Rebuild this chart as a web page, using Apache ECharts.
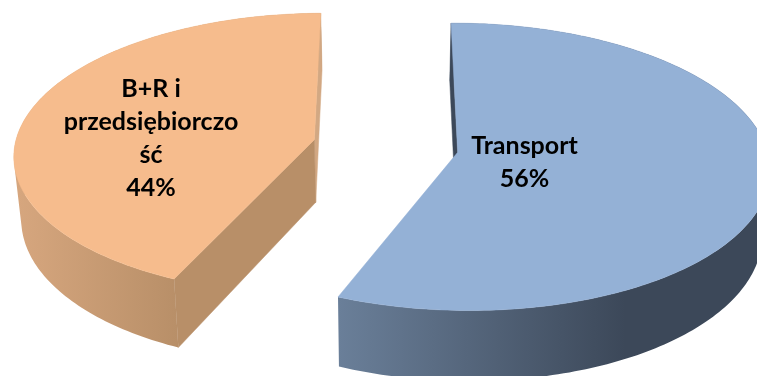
<!DOCTYPE html>
<html>
<head>
<meta charset="utf-8">
<style>html,body{margin:0;padding:0;background:#fff}#c{width:757px;height:376px}</style>
<script src="https://cdn.jsdelivr.net/npm/echarts@6/dist/echarts.min.js"></script>
</head>
<body>
<div id="c"></div>
<script>
// data
const categories = ['Transport', 'B+R i\nprzedsiębiorczo\nść'];
const values = [56, 44];

// view of the tilted pie (plane to screen)
const VIEW = {cx: 385.5, cy: 146, rx: 304, ry: 140.6, k: 0.0998, yaw: 0.01, depth: 63, floorScale: 0.98, explode: 0.24, startDeg: 0};
const LOOK = [
  {top: '#94B1D6', radial: '#3C4859', warpDeg: 1.5, wallFrom: [338, '#6A7F99'], wallTo: [625, '#3C4859'], labelAt: [524.5, 162]},
  {top: '#F6BC8D', radial: '#B88F68', backRadial: '#D2A883', warpDeg: 6, wallFrom: [18, '#D6A67E'], wallTo: [178, '#B88F68'], labelAt: [151, 138]}
];
const total = values.reduce((a, b) => a + b, 0);
const rad = d => d * Math.PI / 180;

function project(X, Y, floor) {
  const w = 1 - VIEW.k * Y - VIEW.yaw * X;
  const s = floor ? VIEW.floorScale : 1;
  return [
    VIEW.cx + s * VIEW.rx * X / w,
    VIEW.cy + VIEW.ry * Y / w + (floor ? VIEW.depth / w : 0)
  ];
}

function area(q) {
  let s = 0;
  q.forEach((p, n) => { const r = q[(n + 1) % q.length]; s += p[0] * r[1] - r[0] * p[1]; });
  return s;
}

// one closed outline that walks every rim quad with the same winding, so the wall fills with no seams
function wallOutline(t, f) {
  const out = [];
  for (let n = 0; n + 1 < t.length; n++) {
    const q = [t[n], t[n + 1], f[n + 1], f[n]];
    const ordered = area(q) >= 0 ? q : [t[n], f[n], f[n + 1], t[n + 1]];
    out.push(...ordered, t[n]);
  }
  for (let n = t.length - 2; n >= 0; n--) out.push(t[n]);
  return out;
}

function renderSlice(params, api) {
  const i = params.dataIndex;
  const look = LOOK[i];
  const before = values.slice(0, i).reduce((a, b) => a + b, 0);
  const a0 = VIEW.startDeg + before / total * 360;
  const a1 = a0 + api.value(0) / total * 360;
  const mid = rad((a0 + a1) / 2);
  const ox = VIEW.explode * Math.sin(mid), oy = -VIEW.explode * Math.cos(mid);
  const rim = (deg, floor) => {
    const d = rad(deg - look.warpDeg * Math.sin(rad(deg)));
    return project(ox + Math.sin(d), oy - Math.cos(d), floor);
  };
  const apex = floor => project(ox, oy, floor);

  const topArc = [], floorArc = [];
  for (let d = a0; d < a1; d += 1) { topArc.push(rim(d, false)); floorArc.push(rim(d, true)); }
  topArc.push(rim(a1, false)); floorArc.push(rim(a1, true));

  const wallFill = new echarts.graphic.LinearGradient(
    look.wallFrom[0], 0, look.wallTo[0], 0,
    [{offset: 0, color: look.wallFrom[1]}, {offset: 1, color: look.wallTo[1]}], true);

  const children = [];
  const poly = (points, fill) => children.push({
    type: 'polygon', shape: {points},
    style: {fill, stroke: fill, lineWidth: 0.5}
  });
  // outer rim wall
  children.push({type: 'polygon', shape: {points: wallOutline(topArc, floorArc)}, style: {fill: wallFill, stroke: null}});
  // radial wall at the back of the slice
  poly([apex(false), rim(i === 0 ? a0 : a1, false), rim(i === 0 ? a0 : a1, true), apex(true)], look.backRadial || look.radial);
  // radial wall facing the viewer (second slice only)
  if (i === 1) poly([apex(false), rim(a0, false), rim(a0, true), apex(true)], look.radial);
  // top face
  poly([apex(false)].concat(topArc), look.top);
  // label
  children.push({
    type: 'text',
    style: {
      text: categories[i] + '\n' + api.value(0) + '%',
      x: look.labelAt[0], y: look.labelAt[1],
      align: 'center', verticalAlign: 'middle',
      fontFamily: 'Lato', fontWeight: 'bold', fontSize: 25, lineHeight: 33, fill: '#000'
    }
  });
  return {type: 'group', children};
}

const chart = echarts.init(document.getElementById('c'), null, {renderer: 'canvas'});
chart.setOption({
  animation: false,
  backgroundColor: '#fff',
  series: [{
    type: 'custom',
    coordinateSystem: 'none',
    silent: true,
    renderItem: renderSlice,
    data: values.map(v => [v])
  }]
});
</script>
</body>
</html>
